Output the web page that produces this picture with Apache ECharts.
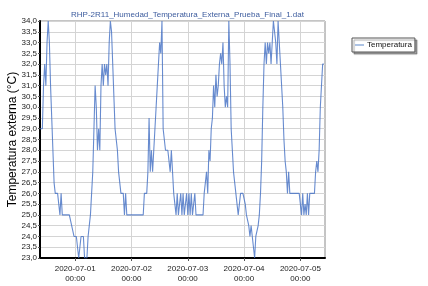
<!DOCTYPE html>
<html>
<head>
<meta charset="utf-8">
<script src="https://cdn.jsdelivr.net/npm/echarts@6/dist/echarts.min.js"></script>
<style>
html,body{margin:0;padding:0;background:#fff;}
#chart{width:428px;height:286px;}
</style>
</head>
<body>
<div id="chart"></div>
<script>
// Sampling: hours relative to 2020-07-01 00:00, one reading every 30 minutes
var startHour = -15;
var stepHours = 0.5;
var axisMinHour = -15;
var axisMaxHour = 106.5;

// Temperatura externa (°C)
var temperatura = [
  29, 29, 29, 31, 32, 31, 33, 34, 33, 31,            // 0-9
  29.5, 28, 26.5, 26, 26, 26, 26, 25, 26, 25,        // 10-19
  25, 25, 25, 25, 25, 25, 25, 24.5, 24.5, 24,        // 20-29
  24, 24, 24, 23, 23, 24, 24, 24, 23, 23,            // 30-39
  23, 24, 24, 25, 26, 27, 29, 31, 30, 28,            // 40-49
  29, 28, 31, 32, 31, 32, 31.5, 32, 31, 33,          // 50-59
  34, 33.5, 32, 30.5, 29, 28.5, 28, 27, 26.5, 26,    // 60-69
  26, 26, 25, 26, 25, 25, 25, 25, 25, 25,            // 70-79
  25, 25, 25, 25, 25, 25, 25, 25, 25, 26,            // 80-89
  26, 26, 27, 29.5, 27, 28, 27, 28, 28, 30,          // 90-99
  31, 32, 33, 32.5, 34, 29, 29, 28, 28, 28,          // 100-109
  28, 27, 28, 27, 26, 26, 25, 26, 25, 25,            // 110-119
  26, 25, 26, 25, 25, 26, 25, 26, 25, 26,            // 120-129
  25, 25, 26, 25, 25, 25, 25, 25, 25, 25,            // 130-139
  26, 26, 27, 26, 28, 27.5, 29, 29.5, 31, 30,        // 140-149
  31.5, 30.5, 31, 32, 32.5, 32, 33, 31, 30, 30.5,    // 150-159
  30, 34, 32, 29, 28, 27, 26.5, 26, 26, 25,          // 160-169
  25.5, 26, 26, 26, 26, 25.5, 25, 25, 24.5, 24,      // 170-179
  24.5, 24, 24, 23, 24, 24, 24.5, 25, 26, 27.5,      // 180-189
  30, 32, 33, 32, 33, 32.5, 33, 32, 33, 34,          // 190-199
  34, 33, 32, 34, 33, 32, 32, 30, 28.5, 27.5,        // 200-209
  27, 26, 27, 26, 26, 26, 26, 26, 26, 26,            // 210-219
  26, 26, 26, 25, 26, 25, 25.5, 25, 26, 25,          // 220-229
  26, 26, 26, 26, 26, 27, 27.5, 27, 28, 30,          // 230-239
  31, 32, 32                                         // 240-242
];

// X tick positions (hours) and their labels
var xTickHours = [0, 24, 48, 72, 96];
var xTickLabels = ['2020-07-01\n00:00', '2020-07-02\n00:00', '2020-07-03\n00:00', '2020-07-04\n00:00', '2020-07-05\n00:00'];

var titleText = 'RHP-2R11_Humedad_Temperatura_Externa_Prueba_Final_1.dat';
var seriesName = 'Temperatura';
var yAxisName = 'Temperatura externa (°C)';

var seriesData = temperatura.map(function (v, i) { return [startHour + i * stepHours, v]; });

var font = 'Liberation Sans, Arial, sans-serif';
var chart = echarts.init(document.getElementById('chart'), null, {renderer: 'canvas'});
chart.setOption({
  animation: false,
  backgroundColor: '#ffffff',
  title: {
    text: titleText,
    left: 182.5,
    top: 6,
    textAlign: 'center',
    textStyle: {fontFamily: font, fontSize: 8, fontWeight: 'normal', color: '#3d5c9e'}
  },
  legend: {
    data: [seriesName],
    left: 352,
    top: 38,
    orient: 'vertical',
    icon: 'rect',
    itemWidth: 9,
    itemHeight: 1,
    itemGap: 2,
    padding: [3, 3, 3, 3],
    backgroundColor: '#ffffff',
    borderColor: '#555555',
    borderWidth: 1,
    shadowColor: 'rgba(0,0,0,0.35)',
    shadowOffsetX: 2,
    shadowOffsetY: 2,
    shadowBlur: 1,
    textStyle: {fontFamily: font, fontSize: 8, color: '#111', padding: [0, 0, 0, -2]}
  },
  grid: {
    left: 40, right: 103, top: 21, bottom: 28,
    containLabel: false,
    outerBoundsMode: 'none',
    show: true,
    borderColor: '#8a8a8a',
    borderWidth: 1,
    backgroundColor: 'transparent'
  },
  xAxis: {
    type: 'value',
    min: axisMinHour,
    max: axisMaxHour,
    axisLine: {show: true, onZero: false, lineStyle: {color: '#000', width: 2}},
    axisTick: {show: true, length: 3, customValues: xTickHours, lineStyle: {color: '#555'}},
    axisLabel: {
      customValues: xTickHours,
      formatter: function (v) { var k = xTickHours.indexOf(v); return k >= 0 ? xTickLabels[k] : ''; },
      fontFamily: font, fontSize: 8, color: '#222', lineHeight: 10, margin: 6
    },
    splitLine: {show: true, lineStyle: {color: '#d4d4d4', width: 1}}
  },
  yAxis: {
    type: 'value',
    min: 23,
    max: 34,
    interval: 0.5,
    name: yAxisName,
    nameLocation: 'middle',
    nameRotate: 90,
    nameGap: 21,
    nameMoveOverlap: false,
    nameTextStyle: {fontFamily: font, fontSize: 12, color: '#000'},
    axisLine: {show: true, onZero: false, lineStyle: {color: '#000', width: 2}},
    axisTick: {show: true, length: 2, lineStyle: {color: '#555'}},
    axisLabel: {
      formatter: function (v) { return v.toFixed(1).replace('.', ','); },
      fontFamily: font, fontSize: 8, color: '#222', margin: 3
    },
    splitLine: {show: true, lineStyle: {color: '#d4d4d4', width: 1}}
  },
  series: [{
    name: seriesName,
    type: 'line',
    data: seriesData,
    showSymbol: false,
    symbol: 'none',
    lineStyle: {color: 'rgba(65,110,195,0.8)', width: 1.1},
    itemStyle: {color: '#5b87c8'}
  }]
});
</script>
</body>
</html>
